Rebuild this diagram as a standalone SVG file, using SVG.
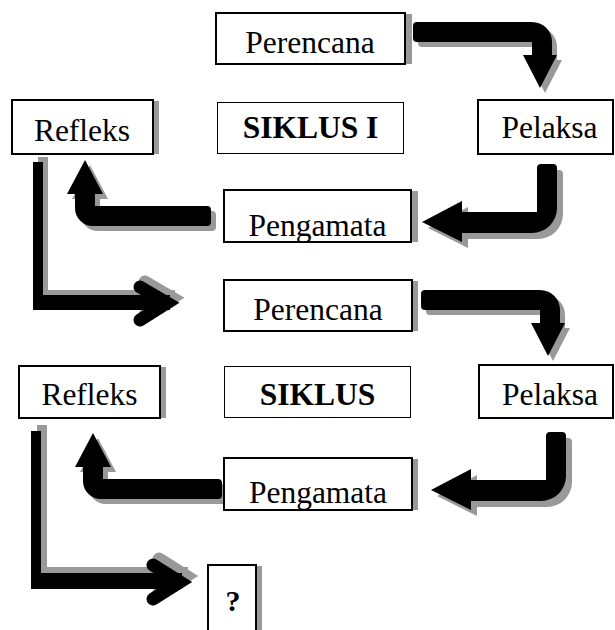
<svg xmlns="http://www.w3.org/2000/svg" width="615" height="630" viewBox="0 0 615 630">
<style>
.box{fill:#fff;stroke:#000;stroke-width:2}
.thin{fill:#fff;stroke:#000;stroke-width:1}
.sh{fill:#999}
.ar{fill:#000}
.chev{fill:none;stroke:#000;stroke-width:13;stroke-linecap:round;stroke-linejoin:miter}
.chevsh{fill:none;stroke:#999;stroke-width:13;stroke-linecap:round;stroke-linejoin:miter}
.t{font-family:"Liberation Serif","Times New Roman",serif;font-size:31.5px;text-anchor:middle;fill:#000}
.b{font-weight:bold}
.q{font-family:"Liberation Serif","Times New Roman",serif;font-size:30px;font-weight:bold;text-anchor:middle;fill:#000}
</style>
<defs>
<clipPath id="cp1"><rect x="225" y="191" width="185" height="50"/></clipPath>
<clipPath id="cp2"><rect x="225" y="459" width="186" height="50"/></clipPath>
<path id="arrowA" d="M417 22H532A20 20 0 0 1 552 42V55H557L540 88L523 55H532V42H417Q413 42 413 38V26Q413 22 417 22Z"/>
<path id="arrowB" d="M541 164H553Q557 164 557 168V208A25 25 0 0 1 532 233H462V242L422 222L462 201V212H537V168Q537 164 541 164Z"/>
</defs>
<g id="connectors">
<use href="#arrowA" class="sh" transform="translate(5,5)"/>
<use href="#arrowA" class="ar"/>
<use href="#arrowB" class="sh" transform="translate(6,6)"/>
<use href="#arrowB" class="ar"/>
<path class="sh" transform="translate(5,5)" d="M207 206H95V194H103L85 160L67 194H75V208A18 18 0 0 0 93 226H207Q211 226 211 222V210Q211 206 207 206Z"/>
<path class="ar" d="M207 206H95V194H103L85 160L67 194H75V208A18 18 0 0 0 93 226H207Q211 226 211 222V210Q211 206 207 206Z"/>
<g transform="translate(5,-5)">
<polygon class="sh" points="33,162 43,162 43,295 170,295 170,310 33,310"/>
<polyline class="chevsh" points="140,287 167,303 140,320"/>
</g>
<polygon class="ar" points="33,162 43,162 43,295 170,295 170,310 33,310"/>
<polyline class="chev" points="140,287 167,303 140,320"/>
<use href="#arrowA" class="sh" transform="translate(13,273)"/>
<use href="#arrowA" class="ar" transform="translate(8,268)"/>
<use href="#arrowB" class="sh" transform="translate(15,274)"/>
<use href="#arrowB" class="ar" transform="translate(9,268)"/>
<path class="sh" transform="translate(13,278)" d="M210 206H95V194H103L85 160L67 194H75V208A18 18 0 0 0 93 226H210Q214 226 214 222V210Q214 206 210 206Z"/>
<path class="ar" transform="translate(8,273)" d="M210 206H95V194H103L85 160L67 194H75V208A18 18 0 0 0 93 226H210Q214 226 214 222V210Q214 206 210 206Z"/>
<g transform="translate(6,-6)">
<polygon class="sh" points="31,431 41,431 41,573 182,573 182,589 31,589"/>
<polyline class="chevsh" points="153,565 180,582 153,599"/>
</g>
<polygon class="ar" points="31,431 41,431 41,573 182,573 182,589 31,589"/>
<polyline class="chev" points="153,565 180,582 153,599"/>
</g>
<g id="perencana1">
<rect class="sh" x="405" y="14" width="7" height="50"/>
<rect class="box" x="216" y="13" width="189" height="51"/>
<text class="t" x="310" y="53">Perencana</text>
</g>
<g id="refleks1">
<rect class="sh" x="153" y="101" width="6" height="53"/>
<rect class="box" x="12" y="100" width="141" height="54"/>
<text class="t" x="82" y="141">Refleks</text>
</g>
<g id="siklus1">
<rect class="thin" x="217.5" y="102.5" width="186" height="51"/>
<text class="t b" x="310.5" y="138">SIKLUS I</text>
</g>
<g id="pelaksa1">
<rect class="box" x="478" y="100" width="135" height="54"/>
<text class="t" x="549.5" y="138">Pelaksa</text>
</g>
<g id="pengamata1">
<rect class="sh" x="411" y="191" width="7" height="51"/>
<rect class="box" x="224" y="190" width="187" height="52"/>
<text class="t" x="317.5" y="236" clip-path="url(#cp1)">Pengamata</text>
</g>
<g id="perencana2">
<rect class="sh" x="412" y="281" width="6" height="50"/>
<rect class="box" x="224" y="280" width="188" height="51"/>
<text class="t" x="318" y="320">Perencana</text>
</g>
<g id="refleks2">
<rect class="sh" x="160" y="367" width="6" height="51"/>
<rect class="box" x="19" y="366" width="141" height="52"/>
<text class="t" x="89.5" y="405">Refleks</text>
</g>
<g id="siklus2">
<rect class="thin" x="224.5" y="366.5" width="186" height="51"/>
<text class="t b" x="317.5" y="405">SIKLUS</text>
</g>
<g id="pelaksa2">
<rect class="box" x="479" y="365" width="134" height="53"/>
<text class="t" x="550" y="405">Pelaksa</text>
</g>
<g id="pengamata2">
<rect class="sh" x="412" y="459" width="6" height="51"/>
<rect class="box" x="224" y="458" width="188" height="52"/>
<text class="t" x="318" y="503" clip-path="url(#cp2)">Pengamata</text>
</g>
<g id="question">
<rect class="sh" x="256" y="566" width="6" height="64"/>
<rect class="box" x="208" y="565" width="48" height="70"/>
<text class="q" x="233" y="611">?</text>
</g>
</svg>
